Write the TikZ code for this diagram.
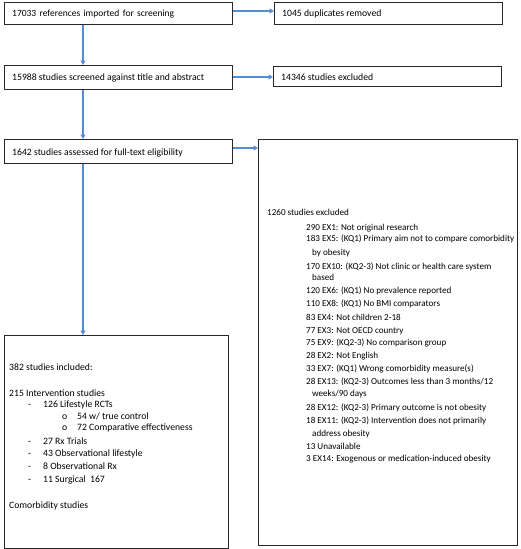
\documentclass[tikz,border=0pt]{standalone}
\usepackage{fontspec}
\setmainfont{Carlito}
\usetikzlibrary{arrows.meta}
\definecolor{arrowblue}{RGB}{84,141,212}
\definecolor{boxline}{RGB}{40,40,40}
\newcommand{\wsp}{\ \hspace{1.2pt}}
\tikzset{
  box/.style={draw=boxline, line width=0.9pt, inner sep=0pt, anchor=north west},
  arr/.style={draw=arrowblue, line width=1.3pt, -{Triangle[length=4.5pt,width=5pt]}, shorten >=0pt},
  txt/.style={anchor=base west, inner sep=0pt, font=\fontsize{9.7}{11}\selectfont},
  etxt/.style={anchor=base west, inner sep=0pt, font=\fontsize{9.1}{11}\selectfont},
}
\begin{document}
\begin{tikzpicture}[x=1pt,y=-1pt]
\useasboundingbox (0,0) rectangle (520,549);
% boxes
\node[box, minimum width=228pt, minimum height=22pt] (b1) at (4,2) {};
\node[box, minimum width=228pt, minimum height=22pt] (b1r) at (274,2) {};
\node[box, minimum width=228pt, minimum height=24pt] (b2) at (4,65) {};
\node[box, minimum width=228pt, minimum height=20pt] (b2r) at (273,66) {};
\node[box, minimum width=228pt, minimum height=24pt] (b3) at (4,139) {};
\node[box, minimum width=259pt, minimum height=406pt] (bR) at (258,139) {};
\node[box, minimum width=224pt, minimum height=213pt] (bL) at (4,335) {};
% connector columns
\coordinate (c1) at (83,0);
\coordinate (r1) at (0,11);
\coordinate (r2) at (0,77);
\coordinate (r3) at (0,148);
% arrows
\draw[arr] (b1.east |- r1) -- (b1r.west |- r1);
\draw[arr] (b2.east |- r2) -- (b2r.west |- r2);
\draw[arr] (b3.east |- r3) -- (bR.west |- r3);
\draw[arr] (b1.south -| c1) -- (b2.north -| c1);
\draw[arr] (b2.south -| c1) -- (b3.north -| c1);
\draw[arr] (b3.south -| c1) -- (bL.north -| c1);
% small box texts
\node[txt, font=\fontsize{9.5}{11}\selectfont] (t1) at (12,16) {17033\wsp references\wsp imported\wsp for\wsp screening};
\node[txt] (t1r) at (282,16) {1045 duplicates removed};
\node[txt] (t2) at (12,80) {15988 studies screened against title and abstract};
\node[txt] (t2r) at (281,80) {14346 studies excluded};
\node[txt] (t3) at (12,155) {1642 studies assessed for full-text eligibility};
% right box texts
\node[etxt] (e0) at (267,215) {1260 studies excluded};
\node[etxt] (e1) at (306,230) {290 EX1: Not original research};
\node[etxt] (e2) at (306,241) {183 EX5: (KQ1) Primary aim not to compare comorbidity};
\node[etxt] (e2b) at (312,255) {by obesity};
\node[etxt] (e3) at (306,269) {170 EX10: (KQ2-3) Not clinic or health care system};
\node[etxt] (e3b) at (312,280) {based};
\node[etxt] (e4) at (306,293) {120 EX6: (KQ1) No prevalence reported};
\node[etxt] (e5) at (306,306) {110 EX8: (KQ1) No BMI comparators};
\node[etxt] (e6) at (306,320) {83 EX4: Not children 2-18};
\node[etxt] (e7) at (306,333) {77 EX3: Not OECD country};
\node[etxt] (e8) at (306,345) {75 EX9: (KQ2-3) No comparison group};
\node[etxt] (e9) at (306,358) {28 EX2: Not English};
\node[etxt] (e10) at (306,371) {33 EX7: (KQ1) Wrong comorbidity measure(s)};
\node[etxt] (e11) at (306,384) {28 EX13: (KQ2-3) Outcomes less than 3 months/12};
\node[etxt] (e11b) at (312,396) {weeks/90 days};
\node[etxt] (e12) at (306,410) {28 EX12: (KQ2-3) Primary outcome is not obesity};
\node[etxt] (e13) at (306,423) {18 EX11: (KQ2-3) Intervention does not primarily};
\node[etxt] (e13b) at (312,436) {address obesity};
\node[etxt] (e14) at (306,449) {13 Unavailable};
\node[etxt] (e15) at (306,461) {3 EX14: Exogenous or medication-induced obesity};
% left box texts
\node[txt] (i0) at (9,370) {382 studies included:};
\node[txt] (i1) at (9,396) {215 Intervention studies};
\node[txt] (d1) at (28,407) {-};
\node[txt] (i2) at (43,407) {126 Lifestyle RCTs};
\node[txt] (o1) at (62,419) {o};
\node[txt] (i3) at (77,419) {54 w/ true control};
\node[txt] (o2) at (62,430) {o};
\node[txt] (i4) at (77,430) {72 Comparative effectiveness};
\node[txt] (d2) at (28,444) {-};
\node[txt] (i5) at (43,444) {27 Rx Trials};
\node[txt] (d3) at (28,456) {-};
\node[txt] (i6) at (43,456) {43 Observational lifestyle};
\node[txt] (d4) at (28,469) {-};
\node[txt] (i7) at (43,469) {8 Observational Rx};
\node[txt] (d5) at (28,482) {-};
\node[txt] (i8) at (43,482) {11 Surgical\ \ 167};
\node[txt] (i9) at (9,508) {Comorbidity studies};
\end{tikzpicture}
\end{document}
